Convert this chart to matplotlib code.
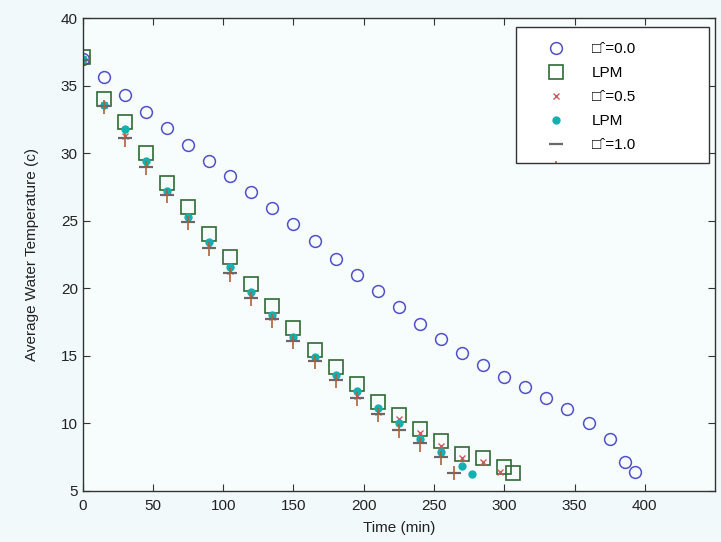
import matplotlib

matplotlib.use("Agg")

import matplotlib.pyplot as plt
from matplotlib.patches import Rectangle

plt.rcParams["font.family"] = ["Liberation Sans", "DejaVu Sans"]

# phi = 0.0 (numerical)
t_phi00 = [0, 15, 30, 45, 60, 75, 90, 105, 120, 135, 150, 165, 180, 195, 210,
           225, 240, 255, 270, 285, 300, 315, 330, 345, 360, 375, 386, 393]
temp_phi00 = [37.0, 35.65, 34.35, 33.05, 31.85, 30.6, 29.45, 28.3, 27.15, 25.95,
              24.75, 23.5, 22.2, 21.0, 19.8, 18.6, 17.35, 16.25, 15.2, 14.3,
              13.4, 12.65, 11.9, 11.05, 10.05, 8.85, 7.1, 6.4]

# LPM for phi = 0.0
t_lpm00 = [0, 15, 30, 45, 60, 75, 90, 105, 120, 135, 150, 165, 180, 195, 210,
           225, 240, 255, 270, 285, 300, 306]
temp_lpm00 = [37.1, 34.05, 32.3, 30.0, 27.8, 26.0, 24.05, 22.3, 20.3, 18.7,
              17.05, 15.4, 14.2, 12.9, 11.6, 10.6, 9.6, 8.65, 7.75, 7.4, 6.75, 6.3]

# phi = 0.5
t_phi05 = [0, 15, 30, 45, 60, 75, 90, 105, 120, 135, 150, 165, 180, 195, 210,
           225, 240, 255, 270, 285, 297]
temp_phi05 = [37.0, 33.6, 31.3, 29.2, 27.1, 25.1, 23.2, 21.3, 19.5, 17.9, 16.3,
              14.8, 13.4, 12.0, 10.8, 10.3, 9.25, 8.3, 7.4, 7.1, 6.35]

# LPM for phi = 0.5
t_lpm05 = [0, 15, 30, 45, 60, 75, 90, 105, 120, 135, 150, 165, 180, 195, 210,
           225, 240, 255, 270, 277]
temp_lpm05 = [37.0, 33.6, 31.8, 29.4, 27.2, 25.3, 23.4, 21.6, 19.7, 18.0, 16.4,
              14.9, 13.6, 12.4, 11.1, 10.0, 8.8, 7.9, 6.8, 6.2]

# phi = 1.0
t_phi10 = [0, 15, 30, 45, 60, 75, 90, 105, 120, 135, 150, 165, 180, 195, 210,
           225, 240, 255, 264]
temp_phi10 = [36.9, 33.5, 31.1, 29.0, 26.9, 24.9, 23.0, 21.1, 19.3, 17.7, 16.1,
              14.6, 13.2, 11.9, 10.7, 9.5, 8.5, 7.5, 6.3]

# LPM for phi = 1.0
t_lpm10 = [0, 15, 30, 45, 60, 75, 90, 105, 120, 135, 150, 165, 180, 195, 210,
           225, 240, 255, 264]
temp_lpm10 = [36.9, 33.4, 31.0, 28.9, 26.8, 24.8, 22.9, 21.0, 19.2, 17.6, 16.0,
              14.5, 13.1, 11.8, 10.6, 9.4, 8.4, 7.4, 6.3]

labels = ["\u25a1\u02c6=0.0", "LPM", "\u25a1\u02c6=0.5", "LPM", "\u25a1\u02c6=1.0", "LPM"]
x_ticks = [0, 50, 100, 150, 200, 250, 300, 350, 400]
y_ticks = [5, 10, 15, 20, 25, 30, 35, 40]

AX_BG = "#f7fdfd"

fig = plt.figure(figsize=(7.21, 5.42), dpi=100, facecolor="#f1f9fb")
ax = fig.add_axes([0.1147, 0.0947, 0.8770, 0.8715], facecolor=AX_BG)

h1, = ax.plot(t_phi00, temp_phi00, "o", ms=8.5, mfc="none", mec="#5050c8", mew=1.1)
h2, = ax.plot(t_lpm00, temp_lpm00, "s", ms=9.5, mfc="none", mec="#2f6a34", mew=1.2)
h3, = ax.plot(t_phi05, temp_phi05, "x", ms=5, color="#d05a5a", mew=1.0)
h4, = ax.plot(t_lpm05, temp_lpm05, ".", ms=10, color="#14b0b0")
h5, = ax.plot(t_phi10, temp_phi10, "_", ms=10, color="#6e6666", mew=1.6)
h6, = ax.plot(t_lpm10, temp_lpm10, "|", ms=10, color="#b0603a", mew=1.2)

ax.set_xlim(0, 450)
ax.set_ylim(5, 40)
ax.set_xticks(x_ticks)
ax.set_yticks(y_ticks)
ax.tick_params(direction="in", length=5, top=True, right=True, labelsize=11,
               color="#333333", labelcolor="#222222")
ax.tick_params(axis="x", pad=6)
for side in ax.spines.values():
    side.set_color("#333333")
    side.set_linewidth(1.0)

ax.set_xlabel("Time (min)", fontsize=11, color="#222222", labelpad=6)
ax.set_ylabel("Average Water Temperature (c)", fontsize=11, color="#222222", labelpad=16)

# legend: frame drawn separately, the last entry is cut off by the frame bottom
box_x, box_y, box_w, box_h = 0.685, 0.693, 0.305, 0.289
ax.add_patch(Rectangle((box_x, box_y), box_w, box_h, transform=ax.transAxes,
                       facecolor="white", edgecolor="none", zorder=4))
leg = ax.legend([h1, h2, h3, h4, h5, h6], labels, loc="upper left",
                bbox_to_anchor=(0.727, 0.963), frameon=False, fontsize=11,
                labelspacing=0.66, handlelength=1.0, handletextpad=1.83,
                borderaxespad=0.0)
leg.set_zorder(5)
# hide what falls below the frame
ax.add_patch(Rectangle((box_x, box_y - 0.1), box_w, 0.1, transform=ax.transAxes,
                       facecolor=AX_BG, edgecolor="none", zorder=6))
ax.add_patch(Rectangle((box_x, box_y), box_w, box_h, transform=ax.transAxes,
                       facecolor="none", edgecolor="#333333", lw=1.0, zorder=7))

fig.savefig("out.png", dpi=100, facecolor=fig.get_facecolor())
